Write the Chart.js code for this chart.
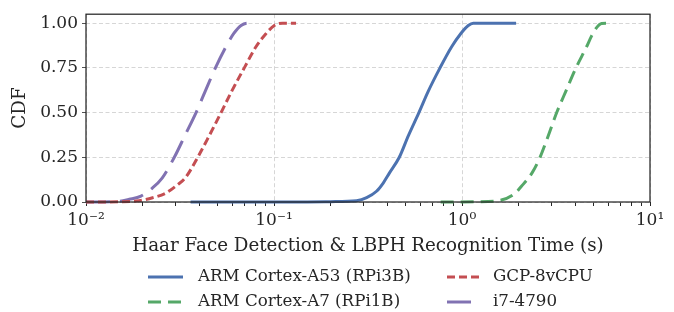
<!DOCTYPE html>
<html>
<head>
<meta charset="utf-8">
<script src="https://cdn.jsdelivr.net/npm/chart.js@4.4.0/dist/chart.umd.min.js"></script>
<style>
  html, body { margin: 0; padding: 0; background: #fff; }
  #wrap { width: 674px; height: 312px; }
</style>
</head>
<body>
<div id="wrap"><canvas id="cdfChart"></canvas></div>
<script>
// values (time in seconds, CDF)
const a53Time = [0.036, 0.15,   0.2,   0.275, 0.311, 0.351, 0.381, 0.41,  0.464, 0.518, 0.59, 0.662, 0.764, 0.881, 0.984, 1.08,  1.148, 1.94];
const a53Cdf  = [0.0,   0.0005, 0.002, 0.007, 0.024, 0.06,  0.106, 0.16,  0.25,  0.37,  0.5,  0.62,  0.75,  0.868, 0.941, 0.987, 1.0,   1.0];

const a7Time = [0.77, 1.2,   1.53,  1.87, 2.12, 2.35, 2.6,  2.88,  3.19, 3.57, 4.04, 4.6,   4.9,  5.2,   5.53,  6.0];
const a7Cdf  = [0.0,  0.001, 0.006, 0.04, 0.1,  0.16, 0.25, 0.372, 0.5,  0.62, 0.75, 0.868, 0.93, 0.975, 0.998, 1.0];

const gcpTime = [0.01, 0.015, 0.0185, 0.0226, 0.0266, 0.0307, 0.0337, 0.0393, 0.0453, 0.0523, 0.0596, 0.0695, 0.0802, 0.0906, 0.1004, 0.111, 0.131];
const gcpCdf  = [0.0,  0.001, 0.005,  0.024,  0.05,   0.097,  0.134,  0.25,   0.372,  0.5,    0.62,   0.75,   0.868,  0.941,  0.987,  1.0,   1.0];

const i7Time = [0.01, 0.015, 0.017, 0.0196, 0.0226, 0.0254, 0.0295, 0.0336, 0.0385, 0.0431, 0.0488, 0.0555, 0.061, 0.0668, 0.0724, 0.0786];
const i7Cdf  = [0.0,  0.004, 0.015, 0.033,  0.079,  0.134,  0.25,   0.372,  0.5,    0.62,   0.75,   0.868,  0.941, 0.987,  1.0,    1.0];

const seriesNames = ['ARM Cortex-A53 (RPi3B)', 'ARM Cortex-A7 (RPi1B)', 'GCP-8vCPU', 'i7-4790'];

const xTickValues = [0.01, 0.1, 1, 10];
const xTickLabels = ['10\u207B\u00B2', '10\u207B\u00B9', '10\u2070', '10\u00B9'];
const yTickValues = [0, 0.25, 0.5, 0.75, 1.0];

const FONT = "'DejaVu Serif', serif";
const TEXT = '#262626';

function toPoints(xs, ys) {
    return xs.map((x, i) => ({x: x, y: ys[i]}));
}

function isMajor(v) {
    const l = Math.log10(v);
    return Math.abs(l - Math.round(l)) < 1e-6;
}

// frame (top/right spines too) drawn over the lines like matplotlib
const framePlugin = {
    id: 'frame',
    afterDatasetsDraw(chart) {
        const {ctx, chartArea: a} = chart;
        ctx.save();
        ctx.strokeStyle = '#262626';
        ctx.lineWidth = 1.25;
        ctx.strokeRect(a.left, a.top, a.right - a.left, a.bottom - a.top);
        ctx.restore();
    }
};

// two-column legend under the axis title
const legendPlugin = {
    id: 'colLegend',
    afterDraw(chart) {
        const ctx = chart.ctx;
        const cols = [{x0: 148, x1: 183, tx: 198}, {x0: 447, x1: 479, tx: 493}];
        const rows = [277, 302];
        // matplotlib ncol=2 legend fills column by column
        chart.data.datasets.forEach((ds, i) => {
            const c = cols[Math.floor(i / 2)];
            const y = rows[i % 2];
            ctx.save();
            ctx.strokeStyle = ds.borderColor;
            ctx.lineWidth = ds.borderWidth;
            ctx.setLineDash(ds.borderDash || []);
            ctx.lineCap = 'butt';
            ctx.beginPath();
            ctx.moveTo(c.x0, y);
            ctx.lineTo(c.x1, y);
            ctx.stroke();
            ctx.setLineDash([]);
            ctx.fillStyle = TEXT;
            ctx.font = '16.7px ' + FONT;
            ctx.textBaseline = 'middle';
            ctx.textAlign = 'left';
            ctx.fillText(ds.label, c.tx, y);
            ctx.restore();
        });
    }
};

function makeSet(label, xs, ys, color, dash) {
    return {
        label: label,
        data: toPoints(xs, ys),
        borderColor: color,
        backgroundColor: color,
        borderWidth: 3,
        borderDash: dash,
        borderCapStyle: 'butt',
        pointRadius: 0,
        fill: false,
        cubicInterpolationMode: 'monotone',
        clip: false
    };
}

new Chart(document.getElementById('cdfChart'), {
    type: 'line',
    data: {
        datasets: [
            makeSet(seriesNames[0], a53Time, a53Cdf, '#4C72B0', []),
            makeSet(seriesNames[1], a7Time, a7Cdf, '#55A868', [13, 7]),
            makeSet(seriesNames[2], gcpTime, gcpCdf, '#C44E52', [8, 4]),
            makeSet(seriesNames[3], i7Time, i7Cdf, '#8172B2', [24, 10])
        ]
    },
    options: {
        responsive: true,
        maintainAspectRatio: false,
        animation: false,
        events: [],
        layout: {padding: {top: 10, right: 24, left: 0, bottom: 55}},
        plugins: {legend: {display: false}, tooltip: {enabled: false}},
        scales: {
            x: {
                type: 'logarithmic',
                position: 'bottom',
                min: 0.01,
                max: 10,
                afterBuildTicks: (scale) => {
                    const t = [];
                    xTickValues.forEach((v, i) => {
                        t.push({value: v, major: true});
                        if (i < xTickValues.length - 1) {
                            for (let k = 2; k <= 9; k++) t.push({value: v * k, major: false});
                        }
                    });
                    scale.ticks = t;
                },
                afterFit: (scale) => { scale.height = 55; },
                border: {display: false, dash: [4, 2.5]},
                grid: {
                    color: (c) => (c.tick && isMajor(c.tick.value)) ? '#cccccc' : 'rgba(0,0,0,0)',
                    lineWidth: 0.8,
                    tickColor: '#262626',
                    tickBorderDash: [],
                    tickWidth: 1,
                    tickLength: 4,
                    drawTicks: true
                },
                ticks: {
                    autoSkip: false,
                    maxRotation: 0,
                    padding: 4,
                    color: TEXT,
                    font: {family: FONT, size: 17},
                    callback: (v) => {
                        const i = xTickValues.findIndex(t => Math.abs(t - v) < 1e-9);
                        return i >= 0 ? xTickLabels[i] : '';
                    }
                },
                title: {
                    display: true,
                    text: 'Haar Face Detection & LBPH Recognition Time (s)',
                    color: TEXT,
                    font: {family: FONT, size: 18.3},
                    padding: {top: 0, bottom: 0}
                }
            },
            y: {
                min: 0,
                max: 1.05,
                afterBuildTicks: (scale) => {
                    scale.ticks = yTickValues.map(v => ({value: v}));
                },
                afterFit: (scale) => { scale.width = 86; },
                border: {display: false, dash: [4, 2.5]},
                grid: {
                    color: '#cccccc',
                    lineWidth: 0.8,
                    tickColor: '#262626',
                    tickBorderDash: [],
                    tickLength: 4
                },
                ticks: {
                    padding: 4,
                    color: TEXT,
                    font: {family: FONT, size: 17},
                    callback: (v) => Number(v).toFixed(2)
                },
                title: {
                    display: true,
                    text: 'CDF',
                    color: TEXT,
                    font: {family: FONT, size: 18.3},
                    padding: {top: 9, bottom: 0}
                }
            }
        }
    },
    plugins: [framePlugin, legendPlugin]
});
</script>
</body>
</html>
